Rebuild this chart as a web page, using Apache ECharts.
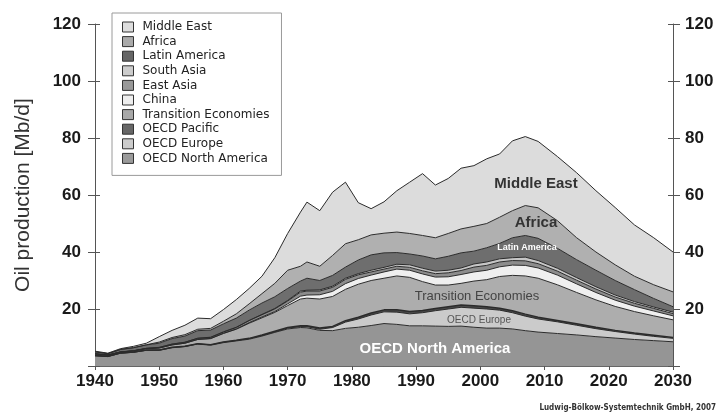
<!DOCTYPE html>
<html>
<head>
<meta charset="utf-8">
<script src="https://cdn.jsdelivr.net/npm/echarts@6/dist/echarts.min.js"></script>
<style>
html,body{margin:0;padding:0;background:#fff;}
#chart{width:724px;height:414px;}
</style>
</head>
<body>
<div id="chart"></div>
<script>
const years = [1940,1942,1944,1946,1948,1950,1952,1954,1956,1958,1960,1962,1964,1966,1968,1970,1972,1973,1975,1977,1979,1981,1983,1985,1987,1989,1991,1993,1995,1997,1999,2001,2003,2005,2007,2009,2012,2015,2018,2021,2024,2027,2030];

const oecdNorthAmerica = [3.6,3.3,4.5,4.8,5.5, 5.5,6.4,6.8,7.7,7.3, 8.2,8.8,9.4,10.5,11.8, 13.0,13.5,13.4,12.5,12.4, 13.2,13.6,14.2,14.9,14.6, 14.1,14.1,14.0,13.9,14.0, 13.6,13.3,13.3,13.0,12.4, 11.9,11.4,10.9,10.3,9.8, 9.3,8.9,8.5];
const oecdEurope = [0.05,0.05,0.05,0.05,0.05, 0.1,0.1,0.1,0.1,0.1, 0.15,0.15,0.2,0.2,0.2, 0.3,0.3,0.4,0.4,1.1, 2.2,2.9,3.7,4.1,4.3, 4.2,4.6,5.4,6.1,6.6, 6.7,6.7,6.3,5.7,5.1, 4.6,4.1,3.4,2.8,2.3, 1.9,1.5,1.2];
const oecdPacific = [0.05,0.05,0.05,0.05,0.05, 0.05,0.05,0.05,0.05,0.1, 0.1,0.1,0.1,0.15,0.2, 0.2,0.3,0.3,0.4,0.4, 0.5,0.6,0.7,0.7,0.8, 0.8,0.8,0.8,0.8,0.8, 0.8,0.8,0.7,0.7,0.7, 0.6,0.5,0.5,0.5,0.4, 0.4,0.4,0.3];
const transitionEconomies = [0.5,0.4,0.3,0.4,0.5, 0.65,0.85,1.05,1.45,2.1, 2.95,3.85,5.3,6.05,6.6, 7.7,9.4,9.7,10.2,10.5, 11.0,11.6,11.4,11.1,11.9, 12.0,10.1,8.2,7.6,7.6, 8.7,9.5,11.1,12.4,13.4, 13.7,12.5,11.0,9.6,8.4, 7.5,6.8,6.2];
const china = [0,0,0,0,0, 0,0,0,0.05,0.05, 0.1,0.1,0.2,0.3,0.3, 0.6,1.0,1.1,1.5,1.8, 2.0,2.0,1.9,2.2,2.4, 2.5,2.7,2.8,2.9,3.1, 3.2,3.3,3.4,3.6,3.7, 3.6,3.4,3.0,2.6,2.2, 1.9,1.7,1.4];
const eastAsia = [0.1,0.05,0.05,0.05,0.1, 0.2,0.25,0.3,0.35,0.35, 0.4,0.5,0.7,0.8,0.9, 1.0,1.4,1.4,1.3,1.4, 1.5,1.3,1.1,1.0,1.0, 1.0,1.1,1.2,1.4,1.4, 1.7,1.7,1.7,1.6,1.6, 1.5,1.4,1.3,1.2,1.1, 1.0,0.9,0.8];
const southAsia = [0,0,0,0,0, 0.05,0.05,0.05,0.05,0.1, 0.1,0.1,0.1,0.1,0.2, 0.2,0.4,0.3,0.4,0.4, 0.4,0.4,0.6,0.6,0.7, 0.9,0.9,0.9,0.9,0.9, 1.1,1.2,1.1,1.0,1.3, 1.1,1.0,0.9,0.8,0.7, 0.6,0.5,0.5];
const latinAmerica = [0.65,0.45,0.85,1.05,1.2, 1.45,1.9,2.15,2.65,2.5, 2.8,3.2,3.6,4.0,4.1, 4.2,3.5,4.2,3.3,3.8, 3.9,4.8,5.4,5.1,4.1, 3.8,4.3,4.3,4.9,5.3, 4.5,5.0,5.4,7.0,7.6, 7.8,7.0,6.3,5.8,5.1, 4.2,3.0,1.9];
const africa = [0.05,0.05,0.05,0.05,0.05, 0.4,0.4,0.5,0.5,0.6, 0.9,1.5,2.2,3.3,4.7, 6.4,5.2,5.7,5.0,7.0, 8.2,7.1,7.0,6.9,7.2, 7.2,7.2,7.4,8.0,8.4, 8.7,8.5,9.2,9.5,10.5, 10.7,9.7,7.7,6.4,5.5, 4.7,4.8,5.2];
const middleEast = [0.2,0.15,0.25,0.45,0.55, 1.9,2.5,3.3,3.9,3.4, 4.1,5.0,5.4,6.1,9.0, 12.9,19.0,21.0,19.5,22.2, 21.6,13.0,9.2,11.0,14.5, 18.0,21.7,18.5,19.3,21.3, 21.3,22.7,22.2,24.5,24.2, 23.3,22.5,22.8,21.5,20.1, 18.0,16.5,14.0];

const yTicks = [0,20,40,60,80,100,120];
const xTicks = [1940,1950,1960,1970,1980,1990,2000,2010,2020,2030];

const layers = [
  {name:'OECD North America', data:oecdNorthAmerica, color:'#959595', legend:'#9a9a9a'},
  {name:'OECD Europe', data:oecdEurope, color:'#cbcbcb', legend:'#cccccc'},
  {name:'OECD Pacific', data:oecdPacific, color:'#4a4a4a', legend:'#666666'},
  {name:'Transition Economies', data:transitionEconomies, color:'#adadad', legend:'#a8a8a8'},
  {name:'China', data:china, color:'#efefef', legend:'#eeeeee'},
  {name:'East Asia', data:eastAsia, color:'#8c8c8c', legend:'#999999'},
  {name:'South Asia', data:southAsia, color:'#c6c6c6', legend:'#cccccc'},
  {name:'Latin America', data:latinAmerica, color:'#6e6e6e', legend:'#666666'},
  {name:'Africa', data:africa, color:'#b0b0b0', legend:'#aaaaaa'},
  {name:'Middle East', data:middleEast, color:'#dcdcdc', legend:'#dddddd'}
];

const tickFont = "'Liberation Sans', Arial, sans-serif";

const chart = echarts.init(document.getElementById('chart'), null, {renderer:'canvas'});

const axisCommonY = {type:'value', min:yTicks[0], max:yTicks[yTicks.length-1], interval:yTicks[1]-yTicks[0], splitLine:{show:false}};
const axisCommonX = {type:'value', min:xTicks[0], max:xTicks[xTicks.length-1], interval:xTicks[1]-xTicks[0], splitLine:{show:false}};

function note(x, y, text, font, fill){
  return {type:'text', x:x, y:y, z:100, zlevel:0, silent:true,
    style:{text:text, font:font, fill:fill, align:'center', verticalAlign:'middle'}};
}

const option = {
  animation:false,
  backgroundColor:'#ffffff',
  grid:{left:95, right:51, top:24, bottom:48, containLabel:false},
  legend:{
    orient:'vertical', left:112, top:13,
    data:layers.slice().reverse().map(l=>l.name),
    itemWidth:11, itemHeight:10, itemGap:2.6,
    icon:'rect',
    padding:[8,12,11,10],
    backgroundColor:'#ffffff', borderColor:'#9a9a9a', borderWidth:1,
    textStyle:{fontFamily:'DejaVu Sans', fontSize:12, color:'#222', lineHeight:10, padding:[0,0,0,4]},
    itemStyle:{borderColor:'#333', borderWidth:1},
    selectedMode:false
  },
  xAxis:[
    Object.assign({}, axisCommonX, {position:'bottom',
      axisLine:{lineStyle:{color:'#555', width:1}},
      axisTick:{inside:true, length:6, lineStyle:{color:'#555'}},
      minorTick:{show:true, splitNumber:10, length:4, lineStyle:{color:'#666'}},
      axisLabel:{fontFamily:tickFont, fontWeight:'bold', fontSize:17, color:'#1a1a1a', margin:7, formatter:v=>String(v)}
    }),
    Object.assign({}, axisCommonX, {position:'bottom',
      axisLine:{show:false}, axisTick:{length:4, lineStyle:{color:'#555'}}, axisLabel:{show:false}
    }),
    Object.assign({}, axisCommonX, {position:'top',
      axisLine:{lineStyle:{color:'#666', width:1}}, axisTick:{show:false}, axisLabel:{show:false}
    })
  ],
  yAxis:[
    Object.assign({}, axisCommonY, {position:'left',
      axisLine:{show:true, lineStyle:{color:'#555'}},
      axisTick:{show:true, length:7, lineStyle:{color:'#555'}},
      axisLabel:{fontFamily:tickFont, fontWeight:'bold', fontSize:17, color:'#1a1a1a', margin:14,
        formatter:v=> v===0 ? '' : String(v)},
      name:'Oil production [Mb/d]', nameLocation:'middle', nameGap:61, nameRotate:90,
      nameTextStyle:{fontFamily:'Liberation Sans', fontSize:21, color:'#333'}
    }),
    Object.assign({}, axisCommonY, {position:'left',
      axisLine:{show:false}, axisTick:{show:true, inside:true, length:5, lineStyle:{color:'#555'}}, axisLabel:{show:false}
    }),
    Object.assign({}, axisCommonY, {position:'right',
      axisLine:{show:true, lineStyle:{color:'#555'}},
      axisTick:{show:true, length:7, lineStyle:{color:'#555'}},
      axisLabel:{fontFamily:tickFont, fontWeight:'bold', fontSize:17, color:'#1a1a1a', margin:12,
        formatter:v=> v===0 ? '' : String(v)}
    }),
    Object.assign({}, axisCommonY, {position:'right',
      axisLine:{show:false}, axisTick:{show:true, inside:true, length:5, lineStyle:{color:'#555'}}, axisLabel:{show:false}
    })
  ],
  series: layers.map(l => ({
    name:l.name, type:'line', stack:'total', symbol:'none', smooth:false,
    xAxisIndex:0, yAxisIndex:0,
    encode:{x:1, y:0},
    data: years.map((y,i)=>[l.data[i], y]),
    itemStyle:{color:l.legend},
    lineStyle:{color:'#2b2b2b', width:l.name==='OECD Pacific' ? 1.5 : 1},
    areaStyle:{color:l.color, opacity:1},
    emphasis:{disabled:true}
  })),
  graphic:{elements:[
    note(536, 184, 'Middle East', "bold 15px 'Liberation Sans', sans-serif", '#333'),
    note(536, 223, 'Africa', "bold 15px 'Liberation Sans', sans-serif", '#333'),
    note(527, 248, 'Latin America', "bold 9px 'Liberation Sans', sans-serif", '#ffffff'),
    note(477, 296, 'Transition Economies', "13px 'Liberation Sans', sans-serif", '#444'),
    note(479, 320, 'OECD Europe', "10px 'Liberation Sans', sans-serif", '#555'),
    note(435, 349, 'OECD North America', "bold 15px 'Liberation Sans', sans-serif", '#ffffff'),
    {type:'text', right:8, bottom:2, z:100, silent:true,
      style:{text:'Ludwig-Bölkow-Systemtechnik GmbH, 2007', font:"bold 8px 'DejaVu Sans Condensed','DejaVu Sans', sans-serif", fill:'#333'}}
  ]}
};
chart.setOption(option);
</script>
</body>
</html>
